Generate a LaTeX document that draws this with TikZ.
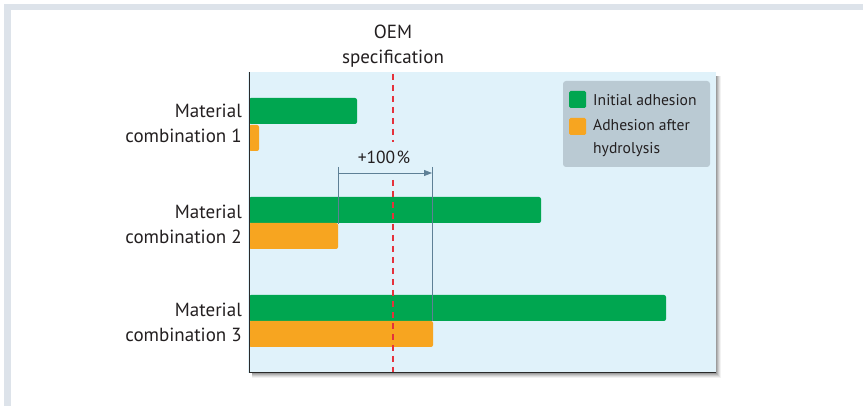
\documentclass[tikz,border=0pt]{standalone}
\usepackage{fontspec}
\setmainfont{PT Sans}
\usetikzlibrary{arrows.meta}
\definecolor{framegray}{HTML}{DDE3EA}
\definecolor{plotbg}{HTML}{E0F2FA}
\definecolor{bargreen}{HTML}{00A650}
\definecolor{barorange}{HTML}{F7A520}
\definecolor{specred}{HTML}{E5323B}
\definecolor{legendbg}{HTML}{BACAD3}
\definecolor{dimblue}{HTML}{5E8096}
\definecolor{axisdark}{HTML}{2A2A2A}
\definecolor{txt}{HTML}{231F20}
\tikzset{
  lbl/.style={font=\fontsize{19}{25}\selectfont, text=txt, inner sep=0pt},
  leg/.style={font=\fontsize{15.6}{23}\selectfont, text=txt, inner sep=0pt},
  greenbar/.style={fill=bargreen, rounded corners=2pt},
  orangebar/.style={fill=barorange, rounded corners=2pt},
  spec/.style={specred, line width=1.4pt, dash pattern=on 6pt off 5pt},
  dim/.style={dimblue, line width=0.8pt},
}
\begin{document}
\begin{tikzpicture}[x=1pt,y=-1pt]
\useasboundingbox (0,0) rectangle (863,406);
\fill[white] (0,0) rectangle (863,406);
% outer frame
\fill[framegray] (4,4) rectangle (863,10);
\fill[framegray] (4,4) rectangle (11,406);
% shadow
\foreach \o/\a in {5/0.05,4/0.07,3/0.09,2/0.11,1/0.13}{
  \fill[black, opacity=\a] (252,76) rectangle (716+\o,373+\o);
}
% plot area
\fill[plotbg] (248,72) rectangle (716,373);
% bars
\fill[greenbar] (249,98) rectangle (357,124);
\fill[orangebar] (249,125) rectangle (259,151);
\fill[greenbar] (249,197) rectangle (541,223);
\fill[orangebar] (249,223) rectangle (338,249);
\fill[greenbar] (249,295) rectangle (666,321);
\fill[orangebar] (249,321) rectangle (433,347);
% axes
\draw[axisdark, line width=1.8pt] (249.5,72) -- (249.5,372.5) -- (716,372.5);
% spec line
\coordinate (s0) at (393,74);
\coordinate (s1) at (393,142);
\coordinate (s2) at (393,180);
\coordinate (s3) at (393,372);
\draw[spec] (s0) -- (s1);
\draw[spec] (s2) -- (s3);
% dimension
\coordinate (dl0) at (338,167);
\coordinate (dl1) at (338,224);
\coordinate (dr0) at (432,167);
\coordinate (dr1) at (432,321);
\coordinate (da) at (338,173);
\coordinate (db) at (432,173);
\draw[dim] (dl0) -- (dl1);
\draw[dim] (dr0) -- (dr1);
\draw[dim, -{Triangle[length=8pt,width=6pt]}] (da) -- (db);
\node[lbl, font=\fontsize{17.5}{20}\selectfont] (pct) at (384,157) {+100\kern1.5pt\%};
% labels
\node[lbl, align=center] (oem) at (393,46) {OEM\\specification};
\node[lbl, align=right, anchor=east] (m1) at (242,123) {Material\\combination 1};
\node[lbl, align=right, anchor=east] (m2) at (242,224) {Material\\combination 2};
\node[lbl, align=right, anchor=east] (m3) at (242,322) {Material\\combination 3};
% legend
\fill[legendbg, rounded corners=3pt] (563,81) rectangle (710,167);
\fill[bargreen, rounded corners=1.5pt] (569,91) rectangle (586,108);
\fill[barorange, rounded corners=1.5pt] (569,118) rectangle (586,135);
\node[leg, anchor=west] (l1) at (593,100) {Initial adhesion};
\node[leg, anchor=north west, align=left] (l2) at (593,119) {Adhesion after\\hydrolysis};
\end{tikzpicture}
\end{document}
